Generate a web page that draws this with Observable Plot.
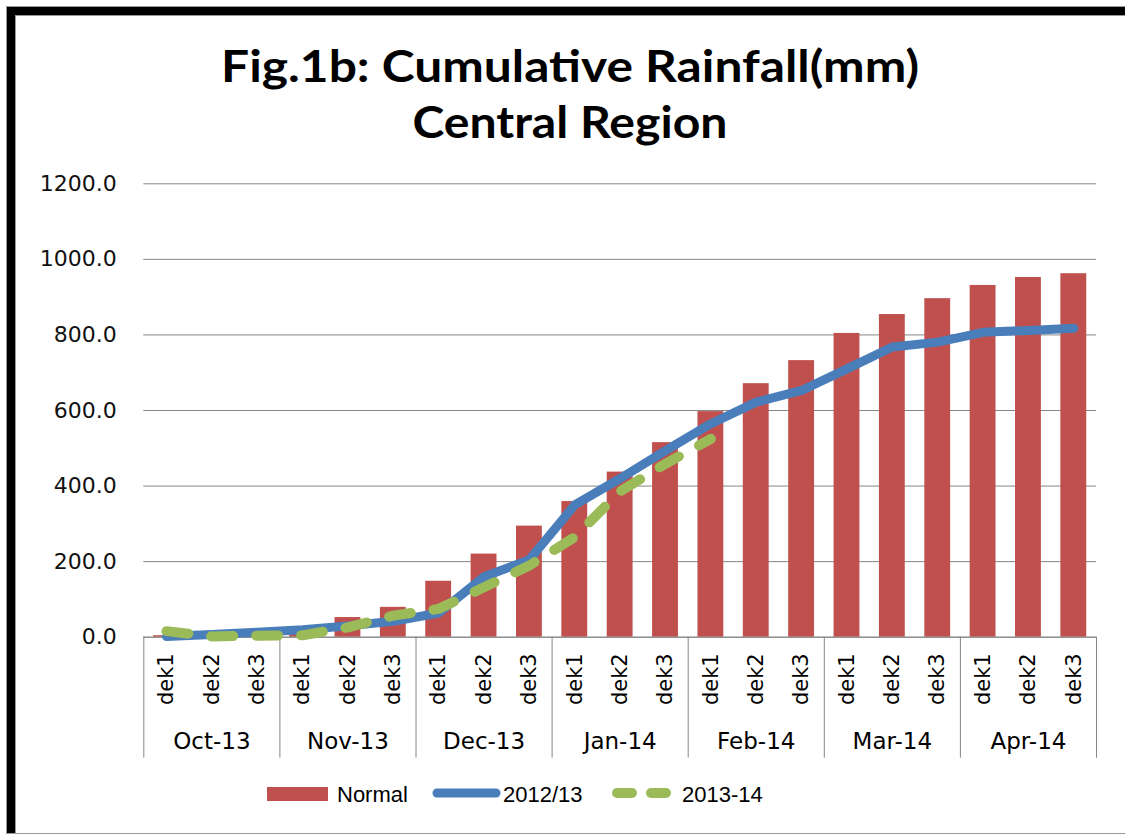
<!DOCTYPE html>
<html>
<head>
<meta charset="utf-8">
<script src="https://cdn.jsdelivr.net/npm/d3@7"></script>
<script src="https://cdn.jsdelivr.net/npm/@observablehq/plot@0.6"></script>
<style>
  html, body { margin: 0; padding: 0; background: #fff; }
  #wrap { position: relative; width: 1125px; height: 835px; overflow: hidden; background: #fff; }
  .frame { position: absolute; left: 6px; top: 6px; width: 1300px; height: 826px; border: 1px solid #999; }
  .frame-black { position: absolute; left: 0; top: 0; right: 0; bottom: 0; border-top: 8px solid #000; border-left: 8px solid #000; }
  .frame-inner { position: absolute; left: 8px; top: 8px; right: 0; bottom: 0; border-top: 1px solid #999; border-left: 1px solid #999; }
  .title { position: absolute; left: 0; width: 1140px; text-align: center; font-family: Lato, "Open Sans", sans-serif; font-weight: 700; font-size: 44px; line-height: 44px; color: #000; white-space: nowrap; }
  .title span { display: inline-block; transform-origin: center center; }
  #chart { position: absolute; left: 0; top: 0; }
  .leg { position: absolute; font-family: "Liberation Sans", Arial, sans-serif; font-size: 22px; line-height: 22px; color: #000; white-space: nowrap; }
</style>
</head>
<body>
<div id="wrap">
  <div class="frame"><div class="frame-black"></div><div class="frame-inner"></div></div>
  <div class="title" style="top:43px"><span id="t1">Fig.1b: Cumulative Rainfall(mm)</span></div>
  <div class="title" style="top:99px"><span id="t2">Central Region</span></div>
  <div id="chart"></div>
  <div style="position:absolute;left:267px;top:787px;width:61px;height:14px;background:#C0504D"></div>
  <div class="leg" style="left:337px;top:784px">Normal</div>
  <svg style="position:absolute;left:420px;top:780px" width="90" height="26"><line x1="17" x2="76" y1="13" y2="13" stroke="#4A7EBB" stroke-width="9" stroke-linecap="round"/></svg>
  <div class="leg" style="left:503px;top:784px">2012/13</div>
  <svg style="position:absolute;left:600px;top:780px" width="90" height="26"><line x1="17" x2="69" y1="13" y2="13" stroke="#9BBB59" stroke-width="10" stroke-linecap="round" stroke-dasharray="15,19"/></svg>
  <div class="leg" style="left:682px;top:784px">2013-14</div>
</div>
<script>
// ---- Data ----
const months = ["Oct-13", "Nov-13", "Dec-13", "Jan-14", "Feb-14", "Mar-14", "Apr-14"];
const deks = ["dek1", "dek2", "dek3"];
const normal = [4, 9, 17, 28, 52, 79, 148, 220, 294, 359, 437, 515, 597, 671, 732, 804, 854, 896, 931, 952, 962];
const rain2012_13 = [2, 7, 13, 20, 30, 42, 64, 160, 205, 350, 420, 494, 565, 622, 653, 710, 768, 781, 807, 812, 818];
const rain2013_14 = [16, 2, 4, 5, 26, 57, 75, 132, 190, 265, 386, 459, 525, null, null, null, null, null, null, null, null];
const yTicks = [0, 200, 400, 600, 800, 1000, 1200];

const data = normal.map((v, i) => ({
  i,
  month: months[Math.floor(i / 3)],
  dek: deks[i % 3],
  normal: v,
  y2012: rain2012_13[i],
  y2013: rain2013_14[i]
}));
const monthBounds = d3.range(0, months.length + 1).map(m => m * deks.length);
const monthRows = months.map((m, k) => ({m, k}));

const chart = Plot.plot({
  width: 1125,
  height: 780,
  marginTop: 183.3,
  marginBottom: 143.3,
  marginLeft: 143.3,
  marginRight: 29,
  style: {background: "transparent", fontFamily: "DejaVu Sans, sans-serif", overflow: "visible", color: "#111"},
  x: {domain: [0, data.length], axis: null},
  y: {domain: [0, 1200]},
  marks: [
    Plot.gridY(yTicks, {stroke: "#868686", strokeOpacity: 1}),
    Plot.rectY(data, {x1: d => d.i + 0.215, x2: d => d.i + 0.785, y: "normal", fill: "#C0504D"}),
    Plot.ruleY([0], {stroke: "#868686"}),
    Plot.ruleX(monthBounds, {x: d => d, y1: 0, y2: 0, insetBottom: -121, stroke: "#868686"}),
    Plot.line(data, {x: d => d.i + 0.5, y: "y2012", stroke: "#4A7EBB", strokeWidth: 9, strokeLinecap: "round", strokeLinejoin: "round"}),
    Plot.line(data.filter(d => d.y2013 != null), {x: d => d.i + 0.5, y: "y2013", stroke: "#9BBB59", strokeWidth: 10, strokeDasharray: "22,23", strokeLinecap: "round", strokeLinejoin: "round"}),
    Plot.axisY(yTicks, {tickSize: 0, tickPadding: 27, tickFormat: d => d.toFixed(1), fontSize: 22, fill: "#111"}),
    Plot.text(data, {x: d => d.i + 0.5, text: "dek", frameAnchor: "bottom", rotate: -90, dy: 42, textAnchor: "middle", lineAnchor: "middle", fontSize: 21, fill: "#000"}),
    Plot.text(monthRows, {x: d => d.k * deks.length + deks.length / 2, text: "m", frameAnchor: "bottom", dy: 104, textAnchor: "middle", lineAnchor: "middle", fontSize: 23, fill: "#000"})
  ]
});
document.getElementById("chart").appendChild(chart);

// fit title lines to reference widths
function fit(id, w) {
  const el = document.getElementById(id);
  const cw = el.getBoundingClientRect().width;
  el.style.transform = `scaleX(${w / cw})`;
}
fit("t1", 698);
fit("t2", 315);
</script>
</body>
</html>
